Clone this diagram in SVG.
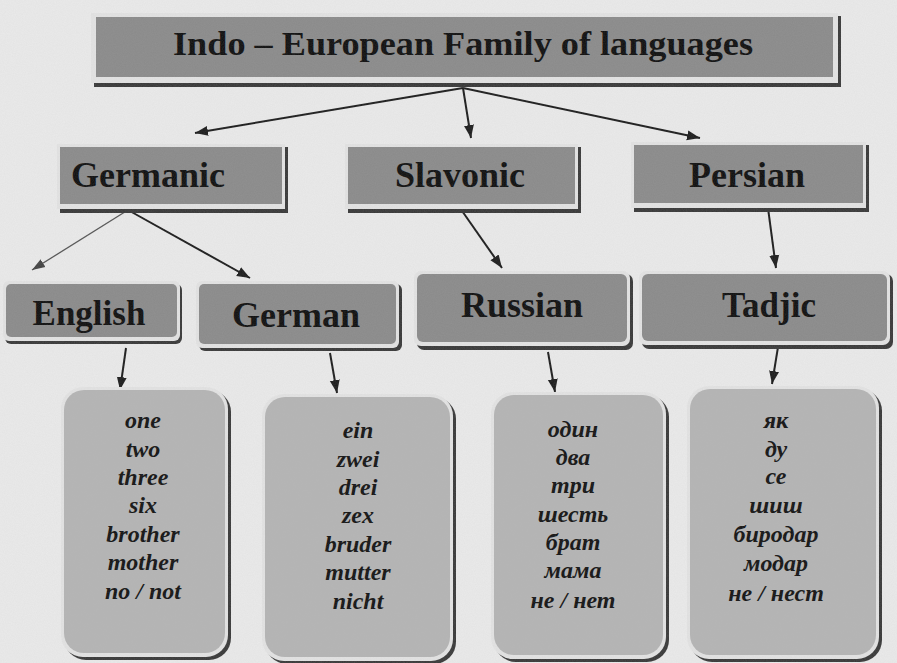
<svg xmlns="http://www.w3.org/2000/svg" width="897" height="663" viewBox="0 0 897 663">
<defs>
<style>
.shadow{fill:#3a3a3a;}
.rim{fill:#e2e2e2;}
.box{fill:#8b8b8b;}
.wbox{fill:#b4b4b4;}
.title{font-family:"Liberation Serif","Times New Roman",serif;font-weight:bold;fill:#111;text-anchor:middle;}
.word{font-family:"Liberation Serif","Times New Roman",serif;font-weight:bold;font-style:italic;font-size:24px;fill:#151515;text-anchor:middle;}
.conn{stroke:#1e1e1e;stroke-width:2;fill:none;marker-end:url(#arr);}
.thin{stroke:#555;stroke-width:1.3;fill:none;marker-end:url(#arr2);}
</style>
<marker id="arr" markerUnits="userSpaceOnUse" markerWidth="14" markerHeight="12" refX="13" refY="6" orient="auto">
<path d="M0,1 L13,6 L0,11 z" fill="#1e1e1e"/>
</marker>
<marker id="arr2" markerUnits="userSpaceOnUse" markerWidth="14" markerHeight="12" refX="13" refY="6" orient="auto">
<path d="M0,1.5 L13,6 L0,10.5 z" fill="#444"/>
</marker>
<filter id="grain" x="0" y="0" width="100%" height="100%">
<feTurbulence type="fractalNoise" baseFrequency="0.9" numOctaves="2" seed="3"/>
<feColorMatrix type="matrix" values="0 0 0 0 0.5  0 0 0 0 0.5  0 0 0 0 0.5  0 0 0 0.6 -0.1"/>
</filter>
</defs>
<rect x="0" y="0" width="897" height="663" fill="#e9e9e9"/>

<g id="connectors">
<line class="conn" x1="463" y1="88" x2="195" y2="133"/>
<line class="conn" x1="463" y1="88" x2="471" y2="138"/>
<line class="conn" x1="463" y1="88" x2="700" y2="138"/>
<line class="thin" x1="128" y1="210" x2="32" y2="270"/>
<line class="conn" x1="128" y1="210" x2="250" y2="278"/>
<line class="conn" x1="460" y1="208" x2="502" y2="268"/>
<line class="conn" x1="768" y1="208" x2="776" y2="268"/>
<line class="conn" x1="126" y1="348" x2="120" y2="390"/>
<line class="conn" x1="330" y1="353" x2="337" y2="393"/>
<line class="conn" x1="548" y1="352" x2="555" y2="392"/>
<line class="conn" x1="778" y1="347" x2="772" y2="384"/>
</g>

<g id="family">
<rect class="shadow" x="94" y="16" width="747" height="71"/>
<rect class="rim" x="91" y="13" width="747" height="70"/>
<rect class="box" x="96" y="17" width="737" height="60"/>
<text class="title" x="463" y="55" font-size="34" textLength="580" lengthAdjust="spacingAndGlyphs">Indo – European Family of languages</text>
</g>

<g id="germanic">
<rect class="shadow" x="60" y="147" width="228" height="66"/>
<rect class="rim" x="57" y="144" width="228" height="65"/>
<rect class="box" x="60" y="147" width="222" height="57"/>
<text class="title" x="148" y="187" font-size="36">Germanic</text>
</g>

<g id="slavonic">
<rect class="shadow" x="348" y="147" width="233" height="66"/>
<rect class="rim" x="345" y="144" width="233" height="65"/>
<rect class="box" x="348" y="147" width="227" height="57"/>
<text class="title" x="460" y="187" font-size="36">Slavonic</text>
</g>

<g id="persian">
<rect class="shadow" x="634" y="145" width="235" height="67"/>
<rect class="rim" x="631" y="142" width="235" height="66"/>
<rect class="box" x="634" y="145" width="229" height="58"/>
<text class="title" x="747" y="187" font-size="36">Persian</text>
</g>

<g id="english">
<rect class="shadow" x="5" y="284" width="177" height="60" rx="6"/>
<rect class="rim" x="3" y="281" width="177" height="60" rx="6"/>
<rect class="box" x="6" y="284" width="171" height="53" rx="5"/>
<text class="title" x="89" y="325" font-size="35">English</text>
</g>

<g id="german">
<rect class="shadow" x="199" y="284" width="203" height="67" rx="6"/>
<rect class="rim" x="196" y="281" width="203" height="67" rx="6"/>
<rect class="box" x="199" y="284" width="197" height="60" rx="5"/>
<text class="title" x="296" y="327" font-size="36">German</text>
</g>

<g id="russian">
<rect class="shadow" x="417" y="274" width="216" height="76" rx="7"/>
<rect class="rim" x="414" y="271" width="216" height="75" rx="7"/>
<rect class="box" x="417" y="274" width="210" height="68" rx="6"/>
<text class="title" x="522" y="317" font-size="36">Russian</text>
</g>

<g id="tadjic">
<rect class="shadow" x="642" y="274" width="251" height="75" rx="7"/>
<rect class="rim" x="639" y="271" width="251" height="74" rx="7"/>
<rect class="box" x="642" y="274" width="245" height="67" rx="6"/>
<text class="title" x="769" y="317" font-size="35">Tadjic</text>
</g>

<g id="english-words">
<rect class="shadow" x="64" y="390" width="167" height="270" rx="22"/>
<rect class="rim" x="61" y="387" width="167" height="270" rx="22"/>
<rect class="wbox" x="64" y="390" width="161" height="263" rx="20"/>
<text class="word" x="143" y="428">one</text>
<text class="word" x="143" y="457">two</text>
<text class="word" x="143" y="485">three</text>
<text class="word" x="143" y="513">six</text>
<text class="word" x="143" y="542">brother</text>
<text class="word" x="143" y="570">mother</text>
<text class="word" x="143" y="599">no / not</text>
</g>

<g id="german-words">
<rect class="shadow" x="265" y="397" width="191" height="267" rx="22"/>
<rect class="rim" x="262" y="394" width="191" height="267" rx="22"/>
<rect class="wbox" x="265" y="397" width="185" height="260" rx="20"/>
<text class="word" x="358" y="438">ein</text>
<text class="word" x="358" y="467">zwei</text>
<text class="word" x="358" y="495">drei</text>
<text class="word" x="358" y="523">zex</text>
<text class="word" x="358" y="552">bruder</text>
<text class="word" x="358" y="580">mutter</text>
<text class="word" x="358" y="609">nicht</text>
</g>

<g id="russian-words">
<rect class="shadow" x="494" y="395" width="175" height="267" rx="22"/>
<rect class="rim" x="491" y="392" width="175" height="267" rx="22"/>
<rect class="wbox" x="494" y="395" width="169" height="260" rx="20"/>
<text class="word" x="573" y="437">один</text>
<text class="word" x="573" y="465">два</text>
<text class="word" x="573" y="493">три</text>
<text class="word" x="573" y="522">шесть</text>
<text class="word" x="573" y="550">брат</text>
<text class="word" x="573" y="578">мама</text>
<text class="word" x="573" y="608">не / нет</text>
</g>

<g id="tadjic-words">
<rect class="shadow" x="690" y="389" width="192" height="273" rx="22"/>
<rect class="rim" x="687" y="386" width="192" height="273" rx="22"/>
<rect class="wbox" x="690" y="389" width="186" height="266" rx="20"/>
<text class="word" x="776" y="428">як</text>
<text class="word" x="776" y="457">ду</text>
<text class="word" x="776" y="484">се</text>
<text class="word" x="776" y="513">шиш</text>
<text class="word" x="776" y="542">биродар</text>
<text class="word" x="776" y="571">модар</text>
<text class="word" x="776" y="601">не / нест</text>
</g>

<rect x="0" y="0" width="897" height="663" filter="url(#grain)" opacity="0.25" pointer-events="none"/>
</svg>
